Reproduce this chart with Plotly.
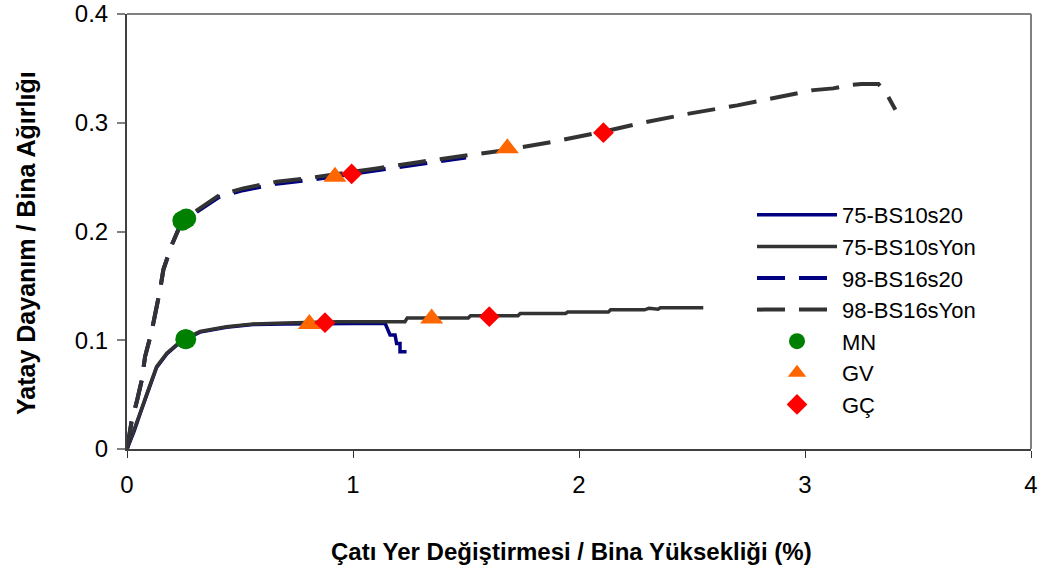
import plotly.graph_objects as go

# Pushover curves: roof drift ratio (%) vs. base shear / building weight
x_75_s20 = [0, 0.03, 0.058, 0.09, 0.131, 0.176, 0.22, 0.264, 0.323, 0.44, 0.558, 0.7, 0.93,
            1.142, 1.164, 1.186, 1.193, 1.208, 1.208, 1.237]
y_75_s20 = [0, 0.0155, 0.0325, 0.0515, 0.075, 0.0875, 0.0955, 0.1015, 0.1075, 0.112, 0.1145,
            0.115, 0.1155, 0.1156, 0.1048, 0.1048, 0.097, 0.097, 0.0895, 0.0895]

x_75_yon = [0, 0.03, 0.058, 0.09, 0.131, 0.176, 0.22, 0.264, 0.323, 0.44, 0.558, 0.7, 0.93,
            1.23, 1.24, 1.51, 1.52, 1.73, 1.74, 1.94, 1.95, 2.13, 2.14, 2.29, 2.31, 2.35,
            2.36, 2.55]
y_75_yon = [0, 0.016, 0.033, 0.052, 0.0757, 0.088, 0.096, 0.102, 0.108, 0.1125, 0.115, 0.1158,
            0.117, 0.117, 0.1205, 0.1205, 0.1225, 0.1225, 0.1245, 0.1245, 0.126, 0.126, 0.128,
            0.128, 0.1295, 0.1285, 0.1298, 0.130]

x_98_s20 = [0, 0.02, 0.045, 0.065, 0.08, 0.109, 0.146, 0.161, 0.198, 0.23, 0.257, 0.338, 0.41,
            0.515, 0.662, 0.795, 0.95, 1.105, 1.296, 1.5]
y_98_s20 = [0, 0.025, 0.045, 0.063, 0.085, 0.108, 0.146, 0.165, 0.1876, 0.203, 0.211, 0.2225,
            0.232, 0.238, 0.244, 0.247, 0.2515, 0.256, 0.262, 0.268]

x_98_yon = [0, 0.02, 0.045, 0.065, 0.08, 0.109, 0.146, 0.161, 0.198, 0.23, 0.257, 0.338, 0.41,
            0.515, 0.662, 0.795, 0.95, 1.105, 1.296, 1.503, 1.68, 1.886, 2.108, 2.27, 2.476,
            2.7, 2.978, 3.037, 3.125, 3.2, 3.25, 3.29, 3.325, 3.36, 3.4]
y_98_yon = [0, 0.025, 0.045, 0.063, 0.085, 0.108, 0.146, 0.165, 0.1876, 0.203, 0.212, 0.224,
            0.2336, 0.2397, 0.2458, 0.2489, 0.253, 0.258, 0.264, 0.2703, 0.275, 0.2826, 0.2918,
            0.2995, 0.308, 0.316, 0.327, 0.330, 0.3316, 0.3347, 0.3356, 0.336, 0.3356, 0.327,
            0.312]

# Performance levels
x_mn = [0.245, 0.262, 0.258, 0.262]
y_mn = [0.210, 0.212, 0.101, 0.101]
x_gv = [0.807, 1.348, 0.92, 1.683]
y_gv = [0.115, 0.120, 0.2504, 0.2765]
x_gc = [0.876, 1.603, 0.994, 2.108]
y_gc = [0.1162, 0.1217, 0.2529, 0.2909]

x_ticks = [0, 1, 2, 3, 4]
y_ticks = [0, 0.1, 0.2, 0.3, 0.4]
y_tick_text = ["0", "0.1", "0.2", "0.3", "0.4"]

NAVY = "#000080"
DARK = "#333333"
FONT = "Liberation Sans, Arial, sans-serif"
DASH = "28px,14px"

fig = go.Figure()
fig.add_trace(go.Scatter(x=x_75_s20, y=y_75_s20, mode="lines", name="75-BS10s20",
                         line=dict(color=NAVY, width=3.5)))
fig.add_trace(go.Scatter(x=x_75_yon, y=y_75_yon, mode="lines", name="75-BS10sYon",
                         line=dict(color=DARK, width=3.5)))
fig.add_trace(go.Scatter(x=x_98_s20, y=y_98_s20, mode="lines", name="98-BS16s20",
                         line=dict(color=NAVY, width=4, dash=DASH)))
fig.add_trace(go.Scatter(x=x_98_yon, y=y_98_yon, mode="lines", name="98-BS16sYon",
                         line=dict(color=DARK, width=4, dash=DASH)))
fig.add_trace(go.Scatter(x=x_mn, y=y_mn, mode="markers", name="MN",
                         marker=dict(symbol="circle", size=20, color="#008000")))
fig.add_trace(go.Scatter(x=x_gv, y=y_gv, mode="markers", name="GV",
                         marker=dict(symbol="triangle-up", size=20, color="#FF6600")))
fig.add_trace(go.Scatter(x=x_gc, y=y_gc, mode="markers", name="GÇ",
                         marker=dict(symbol="diamond", size=16, color="#FF0000")))

# gray frame on the top and right of the plotting area
fig.add_shape(type="line", xref="paper", yref="paper", x0=0, x1=1, y0=1, y1=1,
              line=dict(color="#808080", width=2), layer="below")
fig.add_shape(type="line", xref="paper", yref="paper", x0=1, x1=1, y0=0, y1=1,
              line=dict(color="#808080", width=2), layer="below")

fig.add_annotation(text="<b>Çatı Yer Değiştirmesi / Bina Yüksekliği (%)</b>",
                   xref="paper", yref="paper", x=(571 - 127) / 904, y=-(551 - 449) / 435,
                   showarrow=False, font=dict(family=FONT, size=24, color="#000000"),
                   xanchor="center", yanchor="middle")
fig.add_annotation(text="<b>Yatay Dayanım / Bina Ağırlığı</b>",
                   xref="paper", yref="paper", x=-(127 - 26) / 904, y=(449 - 243) / 435,
                   showarrow=False, textangle=-90,
                   font=dict(family=FONT, size=25, color="#000000"),
                   xanchor="center", yanchor="middle")

fig.update_layout(
    width=1051, height=576,
    margin=dict(l=127, r=20, t=14, b=127, autoexpand=False),
    paper_bgcolor="white", plot_bgcolor="white",
    font=dict(family=FONT, size=22, color="#000000"),
    showlegend=True,
    legend=dict(x=(752 - 127) / 904, y=(449 - 194) / 435, xanchor="left", yanchor="top",
                bgcolor="rgba(0,0,0,0)", font=dict(family=FONT, size=22, color="#000000"),
                itemwidth=80, tracegroupgap=0),
    xaxis=dict(range=[0, 4], tickvals=x_ticks, ticktext=[str(v) for v in x_ticks],
               showgrid=False, zeroline=False, showline=True, linecolor="#404040", linewidth=2,
               ticks="outside", ticklen=7, tickwidth=1, tickcolor="#333333",
               ticklabelstandoff=6, tickfont=dict(size=24), automargin=False),
    yaxis=dict(range=[0, 0.4], tickvals=y_ticks, ticktext=y_tick_text,
               showgrid=False, zeroline=False, showline=True, linecolor="#404040", linewidth=2,
               ticks="outside", ticklen=8, tickwidth=2, tickcolor="#808080",
               ticklabelstandoff=4, tickfont=dict(size=24), automargin=False),
)

fig.write_html("out.html")
